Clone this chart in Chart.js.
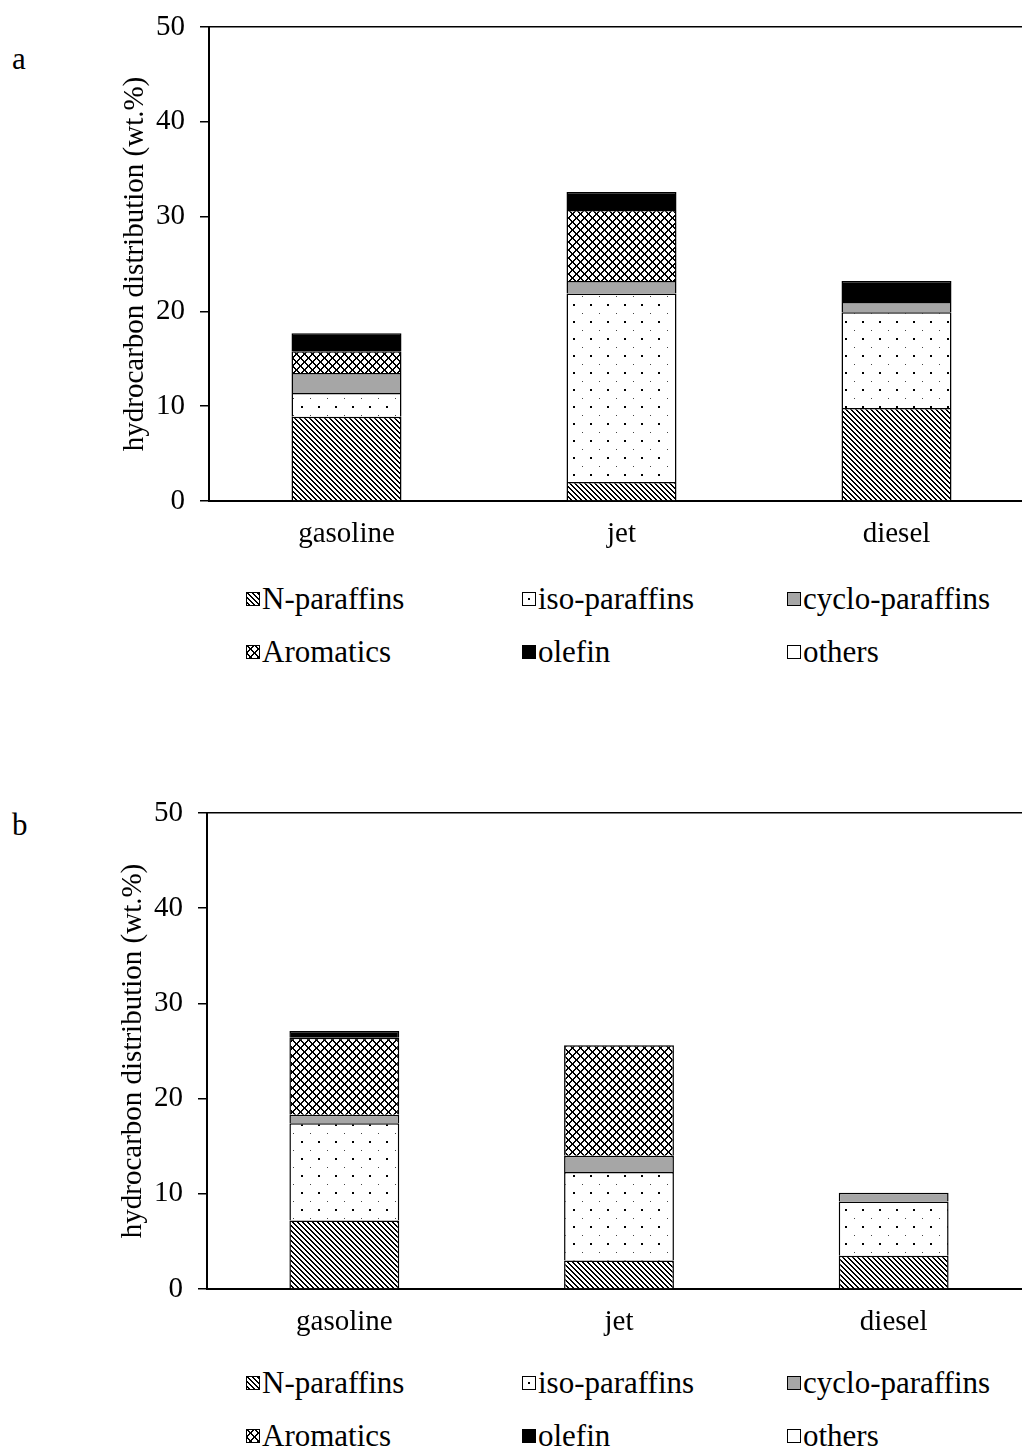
<!DOCTYPE html>
<html>
<head>
<meta charset="utf-8">
<title>hydrocarbon distribution</title>
<script src="https://cdn.jsdelivr.net/npm/chart.js@4.4.1/dist/chart.umd.min.js"></script>
<style>
  body {
    margin: 0;
    width: 1022px;
    height: 1450px;
    overflow: hidden;
    position: relative;
    background: #fff;
    font-family: 'Liberation Serif', 'Times New Roman', serif;
    color: #000;
  }
  .wrap {
    position: absolute;
    left: 0;
    width: 1040px;
    height: 560px;
  }
  .panel {
    position: absolute;
    left: 12px;
    font-size: 31px;
    line-height: 34px;
  }
  .item {
    position: absolute;
    display: flex;
    align-items: center;
    font-size: 31px;
    line-height: 34px;
    white-space: nowrap;
  }
  .item canvas {
    margin-right: 2px;
  }
</style>
</head>
<body>

<div class="panel" style="top:42px;">a</div>
<div class="wrap" style="top:-6px;"><canvas id="chartA" width="1040" height="560"></canvas></div>
<div id="legendA"></div>

<div class="panel" style="top:808px;">b</div>
<div class="wrap" style="top:780px;"><canvas id="chartB" width="1040" height="560"></canvas></div>
<div id="legendB"></div>

<script>
'use strict';

let categories = ['gasoline', 'jet', 'diesel'];
let seriesNames = ['N-paraffins', 'iso-paraffins', 'cyclo-paraffins', 'Aromatics', 'olefin', 'others'];
let yTicks = [0, 10, 20, 30, 40, 50];

// panel a
let nParaffinsA = [8.9, 2.0, 9.8];
let isoParaffinsA = [2.5, 19.9, 10.1];
let cycloParaffinsA = [2.1, 1.3, 1.1];
let aromaticsA = [2.3, 7.5, 0];
let olefinA = [1.9, 1.9, 2.2];
let othersA = [0, 0, 0];

// panel b
let nParaffinsB = [7.2, 3.0, 3.5];
let isoParaffinsB = [10.2, 9.3, 5.7];
let cycloParaffinsB = [0.9, 1.7, 0.9];
let aromaticsB = [8.1, 11.6, 0];
let olefinB = [0.7, 0, 0];
let othersB = [0, 0, 0];

function makeTile(w, h, draw) {
  let c = document.createElement('canvas');
  c.width = w;
  c.height = h;
  let cx = c.getContext('2d');
  cx.fillStyle = '#fff';
  cx.fillRect(0, 0, w, h);
  cx.fillStyle = '#000';
  draw(cx);
  return c;
}

let ctxTmp = document.createElement('canvas').getContext('2d');

// diagonal stripes for N-paraffins
let stripeTile = makeTile(5, 5, function (cx) {
  for (let y = 0; y < 5; y++) {
    cx.fillRect(y % 5, y, 1, 1);
    cx.fillRect((y + 1) % 5, y, 1, 1);
  }
});
// sparse dots for iso-paraffins
let dotTile = makeTile(17, 17, function (cx) {
  cx.fillRect(12, 4, 2, 2);
  cx.fillStyle = '#444';
  cx.fillRect(4, 13, 1, 1);
});
// crosshatch for aromatics
let hatchTile = makeTile(8, 8, function (cx) {
  for (let y = 0; y < 8; y++) {
    cx.fillRect(y % 8, y, 1, 1);
    cx.fillRect((y + 1) % 8, y, 1, 1);
    cx.fillRect((7 - y + 8) % 8, y, 1, 1);
    cx.fillRect((8 - y + 8) % 8, y, 1, 1);
  }
});

let fills = [
  ctxTmp.createPattern(stripeTile, 'repeat'),
  ctxTmp.createPattern(dotTile, 'repeat'),
  '#a6a6a6',
  ctxTmp.createPattern(hatchTile, 'repeat'),
  '#000000',
  '#ffffff'
];

function buildDatasets(values) {
  let sets = [];
  for (let i = 0; i < values.length; i++) {
    sets.push({
      label: seriesNames[i],
      data: values[i],
      backgroundColor: fills[i],
      borderColor: '#000',
      borderWidth: 1.5
    });
  }
  return sets;
}

function makeChart(id, values, padLeft, padTop, padRight, xHeight) {
  return new Chart(document.getElementById(id), {
    type: 'bar',
    data: {
      labels: categories,
      datasets: buildDatasets(values)
    },
    options: {
      responsive: false,
      animation: false,
      barPercentage: 0.4,
      categoryPercentage: 1,
      layout: {
        padding: { left: padLeft, top: padTop, right: padRight, bottom: 0 }
      },
      plugins: {
        legend: { display: false },
        tooltip: { enabled: false }
      },
      scales: {
        x: {
          stacked: true,
          grid: { display: false, drawTicks: false },
          border: { display: true, color: '#000', width: 2 },
          ticks: {
            color: '#000',
            padding: 16,
            maxRotation: 0,
            font: { family: 'Liberation Serif', size: 29 }
          },
          afterFit: function (scale) { scale.height = xHeight; }
        },
        y: {
          stacked: true,
          min: 0,
          max: 50,
          afterBuildTicks: function (scale) {
            scale.ticks = yTicks.map(function (v) { return { value: v }; });
          },
          grid: {
            color: function (c) { return c.tick && c.tick.value === 50 ? '#000' : 'rgba(0,0,0,0)'; },
            tickColor: '#000',
            lineWidth: 1.5,
            tickLength: 9
          },
          border: { display: true, color: '#000', width: 2 },
          ticks: {
            color: '#000',
            padding: 15,
            font: { family: 'Liberation Serif', size: 29 }
          },
          title: {
            display: true,
            text: 'hydrocarbon distribution (wt.%)',
            color: '#000',
            padding: { top: 8, bottom: 0 },
            font: { family: 'Liberation Serif', size: 29 }
          },
          afterFit: function (scale) { scale.width = 99; }
        }
      }
    }
  });
}

makeChart('chartA', [nParaffinsA, isoParaffinsA, cycloParaffinsA, aromaticsA, olefinA, othersA], 110, 33, 6, 53);
makeChart('chartB', [nParaffinsB, isoParaffinsB, cycloParaffinsB, aromaticsB, olefinB, othersB], 108, 33, 9, 51);

// legend swatches
function swatch(i) {
  let c = document.createElement('canvas');
  c.width = 14;
  c.height = 14;
  let cx = c.getContext('2d');
  if (i === 1) {
    cx.fillStyle = '#fff';
    cx.fillRect(0, 0, 14, 14);
    cx.fillStyle = '#000';
    cx.fillRect(6, 6, 2, 2);
  } else {
    cx.fillStyle = fills[i];
    cx.fillRect(0, 0, 14, 14);
  }
  cx.strokeStyle = '#000';
  cx.lineWidth = 1;
  cx.strokeRect(0.5, 0.5, 13, 13);
  return c;
}

let legendCols = [246, 522, 787];

function renderLegend(id, rowTops) {
  let box = document.getElementById(id);
  for (let i = 0; i < seriesNames.length; i++) {
    let div = document.createElement('div');
    div.className = 'item';
    div.style.left = legendCols[i % 3] + 'px';
    div.style.top = rowTops[Math.floor(i / 3)] + 'px';
    div.appendChild(swatch(i));
    let span = document.createElement('span');
    span.textContent = seriesNames[i];
    div.appendChild(span);
    box.appendChild(div);
  }
}

renderLegend('legendA', [582, 635]);
renderLegend('legendB', [1366, 1419]);
</script>
</body>
</html>
